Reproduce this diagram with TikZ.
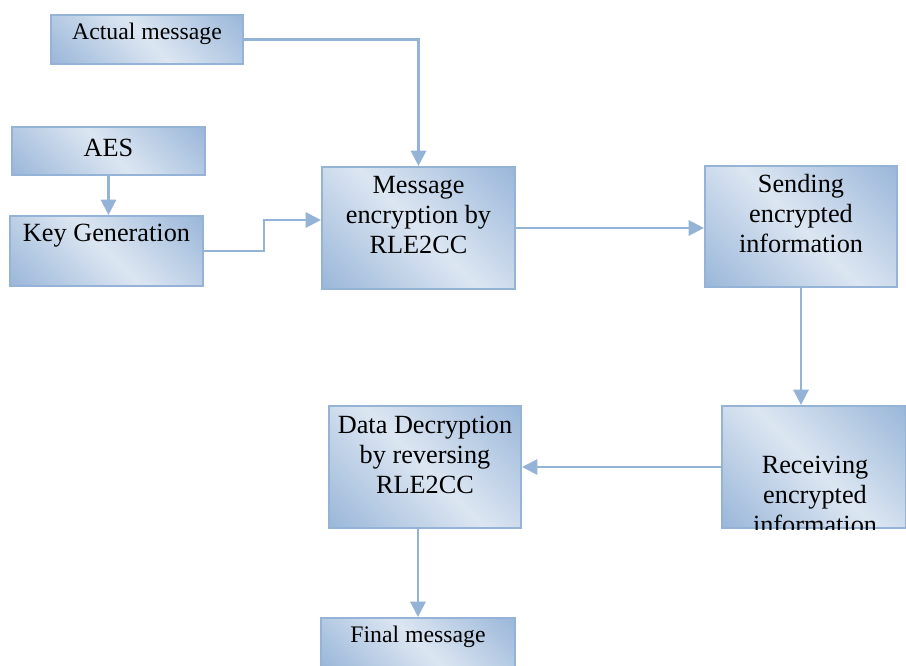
\documentclass[tikz,border=0pt]{standalone}
\usepackage{fontspec}
\setmainfont{Liberation Serif}
\usepackage{xcolor}
\usetikzlibrary{arrows.meta}
\definecolor{boxline}{HTML}{95B3D7}
\definecolor{boxdark}{HTML}{95B3D7}
\definecolor{boxlight}{HTML}{DCE6F2}
\pgfdeclareverticalshading{boxshade}{100bp}{color(0bp)=(boxdark); color(12bp)=(boxdark); color(50bp)=(boxlight); color(88bp)=(boxdark); color(100bp)=(boxdark)}
\newcommand{\Px}{0.75pt}
\newcommand{\BoxW}{193}

\tikzset{
  blk/.style={draw=boxline, line width=1.6pt, inner sep=0pt,
    shade, shading=boxshade, shading angle=-45},
  txt/.style={inner sep=0pt, align=center, font=\fontsize{19.7}{22.5}\selectfont},
  smalltxt/.style={inner sep=0pt, align=center, font=\fontsize{17.8}{21}\selectfont},
  flow/.style={draw=boxline, line width=1.7pt, -{Triangle[width=11.5pt,length=11.5pt]}},
}

\begin{document}
\begin{tikzpicture}[x=\Px, y=-\Px]
\useasboundingbox (0,0) rectangle (906,665);
\clip (0,0) rectangle (906,665);

\node[blk, minimum width=192*\Px, minimum height=49*\Px] (act) at (147,39.5) {};% Actual message
\node[blk, minimum width=\BoxW*\Px, minimum height=48*\Px] (aes) at (108.5,151) {};% AES
\node[blk, minimum width=\BoxW*\Px, minimum height=70*\Px] (key) at (106.5,251) {};% Key Generation
\node[blk, minimum width=\BoxW*\Px, minimum height=122*\Px] (enc) at (418.5,228) {};% encryption
\node[blk, minimum width=192*\Px, minimum height=121*\Px] (send) at (801,226.5) {};% sending
\node[blk, minimum width=184*\Px, minimum height=122*\Px] (recv) at (814,467) {};% receiving
\node[blk, minimum width=192*\Px, minimum height=122*\Px] (dec) at (425,467) {};% decryption
\node[blk, minimum width=194*\Px, minimum height=49*\Px] (fin) at (418,642.5) {};% Final message

\node[smalltxt] (act-t) at (147,34) {Actual message};
\node[txt] (aes-t) at (108.5,148) {AES};
\node[txt] (key-t) at (106.5,236) {Key Generation};
\node[txt] (enc-t) at (418.5,215) {Message\\encryption by\\RLE2CC};
\node[txt] (send-t) at (801,214) {Sending\\encrypted\\information};
\node[txt] (dec-t) at (425,455) {Data Decryption\\by reversing\\RLE2CC};
\node[smalltxt] (fin-t) at (418,637) {Final message};
\begin{scope}
\clip (recv.south west) rectangle (recv.north east);
\node[txt] (recv-t) at (815,495) {Receiving\\encrypted\\information};
\end{scope}

\coordinate (kbend) at (264,220);
\draw[flow] (act.east) -| (enc.north);
\draw[flow] (aes.south) -- (aes.south |- key.north);
\draw[flow] (key.east) -| (kbend) -- (kbend -| enc.west);
\draw[flow] (enc.east) -- (enc.east -| send.west);
\draw[flow] (send.south) -- (send.south |- recv.north);
\draw[flow] (recv.west) -- (dec.east);
\draw[flow] (fin.north |- dec.south) -- (fin.north);
\end{tikzpicture}
\end{document}
